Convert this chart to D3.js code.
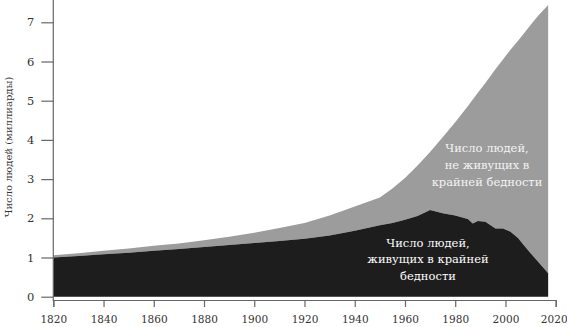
<!DOCTYPE html>
<html>
<head>
<meta charset="utf-8">
<script src="https://cdn.jsdelivr.net/npm/d3@7"></script>
<style>
  body { margin: 0; background: #fff; }
</style>
</head>
<body>
<div id="wrapper"></div>
<script>
// years on the x axis
const years = [1820, 1830, 1840, 1850, 1860, 1870, 1880, 1890, 1900, 1910, 1920, 1930, 1940,
  1950, 1955, 1960, 1965, 1970, 1975, 1980, 1985, 1987, 1989, 1992, 1996, 1999, 2002, 2005,
  2007, 2010, 2013, 2017];
// world population, billions
const total = [1.06, 1.11, 1.17, 1.23, 1.30, 1.36, 1.44, 1.53, 1.63, 1.75, 1.88, 2.07, 2.30,
  2.53, 2.76, 3.03, 3.35, 3.69, 4.07, 4.45, 4.86, 5.03, 5.20, 5.45, 5.80, 6.05, 6.30, 6.53,
  6.69, 6.93, 7.17, 7.44];
// people in extreme poverty, billions
const poverty = [1.00, 1.04, 1.08, 1.12, 1.17, 1.22, 1.27, 1.32, 1.37, 1.42, 1.48, 1.56, 1.68,
  1.82, 1.88, 1.96, 2.06, 2.21, 2.13, 2.07, 1.98, 1.87, 1.93, 1.91, 1.74, 1.74, 1.66, 1.50,
  1.34, 1.11, 0.89, 0.60];

const xTicks = d3.range(1820, 2021, 20);
const yTicks = [0, 1, 2, 3, 4, 5, 6, 7];

const yTitle = 'Число людей (миллиарды)';
const labelRich = ['Число людей,', 'не живущих в', 'крайней бедности'];
const labelPoor = ['Число людей,', 'живущих в крайней', 'бедности'];

const serif = 'DejaVu Serif';

const data = years.map((y, i) => ({ year: y, total: total[i], poverty: poverty[i] }));

const svg = d3.select('#wrapper').append('svg').attr('width', 567).attr('height', 327)
  .attr('font-family', serif);

const x = d3.scaleLinear().domain([1820, 2020]).range([53.3, 555.7]);
const y = d3.scaleLinear().domain([0, 7]).range([296.7, 22.3]);

// grey: people not in extreme poverty, stacked on top
svg.append('path')
  .datum(data)
  .attr('fill', '#9c9c9c')
  .attr('d', d3.area()
    .x(d => x(d.year))
    .y0(d => y(d.poverty))
    .y1(d => y(d.total)));

// black: people in extreme poverty
svg.append('path')
  .datum(data)
  .attr('fill', '#1d1d1d')
  .attr('d', d3.area()
    .x(d => x(d.year))
    .y0(y(0))
    .y1(d => y(d.poverty)));

// x axis
const xAxis = svg.append('g')
  .attr('transform', 'translate(0,300)')
  .call(d3.axisBottom(x).tickValues(xTicks).tickFormat(d3.format('d'))
    .tickSize(7).tickSizeOuter(7).tickPadding(9));
xAxis.attr('font-family', serif);
xAxis.selectAll('path, line').attr('stroke', '#666').attr('stroke-width', 1.2);
xAxis.selectAll('text').attr('font-size', 10.5).attr('fill', '#333')
  .attr('dx', d => d === 2020 ? -2 : 0);

// y axis
const yAxis = svg.append('g')
  .attr('transform', 'translate(53.3,0)')
  .call(d3.axisLeft(y).tickValues(yTicks).tickFormat(d3.format('d'))
    .tickSize(12).tickPadding(7));
yAxis.attr('font-family', serif);
yAxis.select('.domain').remove();
yAxis.append('line')
  .attr('x1', 0).attr('x2', 0).attr('y1', 0).attr('y2', 301)
  .attr('stroke', '#666').attr('stroke-width', 1.2);
yAxis.selectAll('line').attr('stroke', '#666').attr('stroke-width', 1.2);
yAxis.selectAll('text').attr('font-size', 11.5).attr('fill', '#333');

svg.append('text')
  .attr('transform', 'translate(12,147) rotate(-90)')
  .attr('text-anchor', 'middle')
  .attr('font-size', 10)
  .attr('fill', '#333')
  .text(yTitle);

// annotations
svg.append('text')
  .attr('text-anchor', 'middle')
  .attr('font-size', 11.5)
  .attr('fill', '#f4f4f4')
  .selectAll('tspan')
  .data(labelRich)
  .join('tspan')
  .attr('x', 487)
  .attr('y', (d, i) => 152 + i * 17)
  .text(d => d);

svg.append('text')
  .attr('text-anchor', 'middle')
  .attr('font-size', 11.5)
  .attr('fill', '#ffffff')
  .selectAll('tspan')
  .data(labelPoor)
  .join('tspan')
  .attr('x', 428)
  .attr('y', (d, i) => 246.5 + i * 16.5)
  .text(d => d);
</script>
</body>
</html>
